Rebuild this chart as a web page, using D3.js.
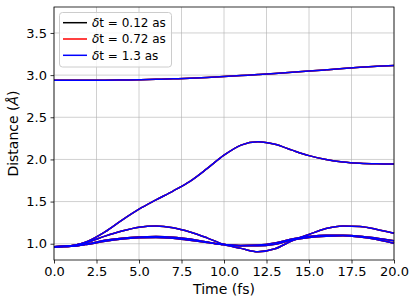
<!DOCTYPE html>
<html lang="en">
<head>
<meta charset="UTF-8">
<title>Distance vs time</title>
<style>
  body { margin: 0; background: #fff; }
  svg { font-family: "DejaVu Sans", sans-serif; }
</style>
</head>
<body>
<script src="https://d3js.org/d3.v7.min.js"></script>
<script>
// time axis (fs)
var time = [0,1,2,3,4,5,6,7,8,9,10,11,12,13,14,15,16,17,18,19,20];
// distances (Å), one array per bond
var dist1 = [2.94,2.94,2.94,2.94,2.942,2.945,2.95,2.956,2.963,2.972,2.983,2.995,3.007,3.02,3.034,3.048,3.063,3.078,3.092,3.104,3.115];
var dist2 = [0.965,0.975,1.03,1.14,1.28,1.41,1.52,1.625,1.74,1.89,2.05,2.17,2.21,2.18,2.11,2.045,2.00,1.97,1.955,1.948,1.945];
var dist3 = [0.965,0.975,1.02,1.09,1.15,1.195,1.21,1.19,1.14,1.07,0.99,0.945,0.905,0.94,1.035,1.11,1.18,1.21,1.205,1.17,1.125];
var dist4 = [0.965,0.97,1.0,1.04,1.065,1.08,1.085,1.078,1.055,1.02,0.99,0.98,0.985,1.01,1.055,1.085,1.10,1.10,1.09,1.065,1.035];
var dist5 = [0.965,0.97,0.995,1.03,1.055,1.07,1.075,1.065,1.04,1.015,0.99,0.975,0.975,0.995,1.045,1.075,1.09,1.095,1.08,1.05,1.005];
var seriesLabels = ["0.12 as", "0.72 as", "1.3 as"];
var seriesColors = ["#000000", "#ff0000", "#0000ff"];
var xTicks = [0, 2.5, 5, 7.5, 10, 12.5, 15, 17.5, 20];
var yTicks = [1.0, 1.5, 2.0, 2.5, 3.0, 3.5];

var width = 416, height = 305;
var margin = { left: 54, right: 22, top: 7, bottom: 45 };

var svg = d3.select('body').append('svg')
    .attr('width', width).attr('height', height);

var x = d3.scaleLinear().domain([0, 20]).range([margin.left, width - margin.right]);
var y = d3.scaleLinear().domain([0.807, 3.808]).range([height - margin.bottom, margin.top]);

// grid
svg.append('g').selectAll('line').data(xTicks).enter().append('line')
    .attr('x1', function(d) { return x(d); }).attr('x2', function(d) { return x(d); })
    .attr('y1', margin.top).attr('y2', height - margin.bottom)
    .attr('stroke', '#b0b0b0').attr('stroke-opacity', 0.6).attr('stroke-width', 1);
svg.append('g').selectAll('line').data(yTicks).enter().append('line')
    .attr('y1', function(d) { return y(d); }).attr('y2', function(d) { return y(d); })
    .attr('x1', margin.left).attr('x2', width - margin.right)
    .attr('stroke', '#b0b0b0').attr('stroke-opacity', 0.6).attr('stroke-width', 1);

// curves
var curves = [dist1, dist2, dist3, dist4, dist5];
var line = d3.line()
    .x(function(d, i) { return x(time[i]); })
    .y(function(d) { return y(d); })
    .curve(d3.curveMonotoneX);

seriesColors.forEach(function(c) {
    svg.append('g').selectAll('path').data(curves).enter().append('path')
        .attr('d', line)
        .attr('fill', 'none')
        .attr('stroke', c)
        .attr('stroke-width', 1.5);
});

// axes
var xAxis = svg.append('g')
    .attr('transform', 'translate(0,' + (height - margin.bottom) + ')')
    .call(d3.axisBottom(x).tickValues(xTicks).tickFormat(d3.format('.1f')).tickSize(3.5).tickPadding(3.5));
var yAxis = svg.append('g')
    .attr('transform', 'translate(' + margin.left + ',0)')
    .call(d3.axisLeft(y).tickValues(yTicks).tickFormat(d3.format('.1f')).tickSize(3.5).tickPadding(3.5));
[xAxis, yAxis].forEach(function(a) {
    a.selectAll('text').attr('font-size', 13).attr('font-family', 'DejaVu Sans').attr('fill', '#000');
    a.selectAll('.tick line').attr('stroke', '#000').attr('stroke-width', 0.8);
    a.select('.domain').remove();
});

// frame
svg.append('rect')
    .attr('x', margin.left).attr('y', margin.top)
    .attr('width', width - margin.left - margin.right)
    .attr('height', height - margin.top - margin.bottom)
    .attr('fill', 'none').attr('stroke', '#000').attr('stroke-width', 0.8);

// axis labels
svg.append('text')
    .attr('x', (margin.left + width - margin.right) / 2).attr('y', 294)
    .attr('text-anchor', 'middle').attr('font-size', 14)
    .text('Time (fs)');
var yl = svg.append('text')
    .attr('transform', 'translate(18,' + ((margin.top + height - margin.bottom) / 2) + ') rotate(-90)')
    .attr('text-anchor', 'middle').attr('font-size', 14);
yl.append('tspan').text('Distance (');
yl.append('tspan').attr('font-style', 'italic').text('Å');
yl.append('tspan').text(')');

// legend
var lg = svg.append('g');
lg.append('rect')
    .attr('x', 59.5).attr('y', 12.5).attr('width', 112).attr('height', 54.5)
    .attr('rx', 3).attr('fill', '#fff').attr('fill-opacity', 0.8)
    .attr('stroke', '#cccccc').attr('stroke-width', 1);
seriesLabels.forEach(function(s, i) {
    var yy = 22.7 + i * 16.3;
    lg.append('line')
        .attr('x1', 63).attr('x2', 87).attr('y1', yy).attr('y2', yy)
        .attr('stroke', seriesColors[i]).attr('stroke-width', 1.5);
    var t = lg.append('text').attr('x', 92).attr('y', yy + 4.3).attr('font-size', 12);
    t.append('tspan').attr('font-style', 'italic').text('δ');
    t.append('tspan').text('t = ' + s);
});
</script>
</body>
</html>
